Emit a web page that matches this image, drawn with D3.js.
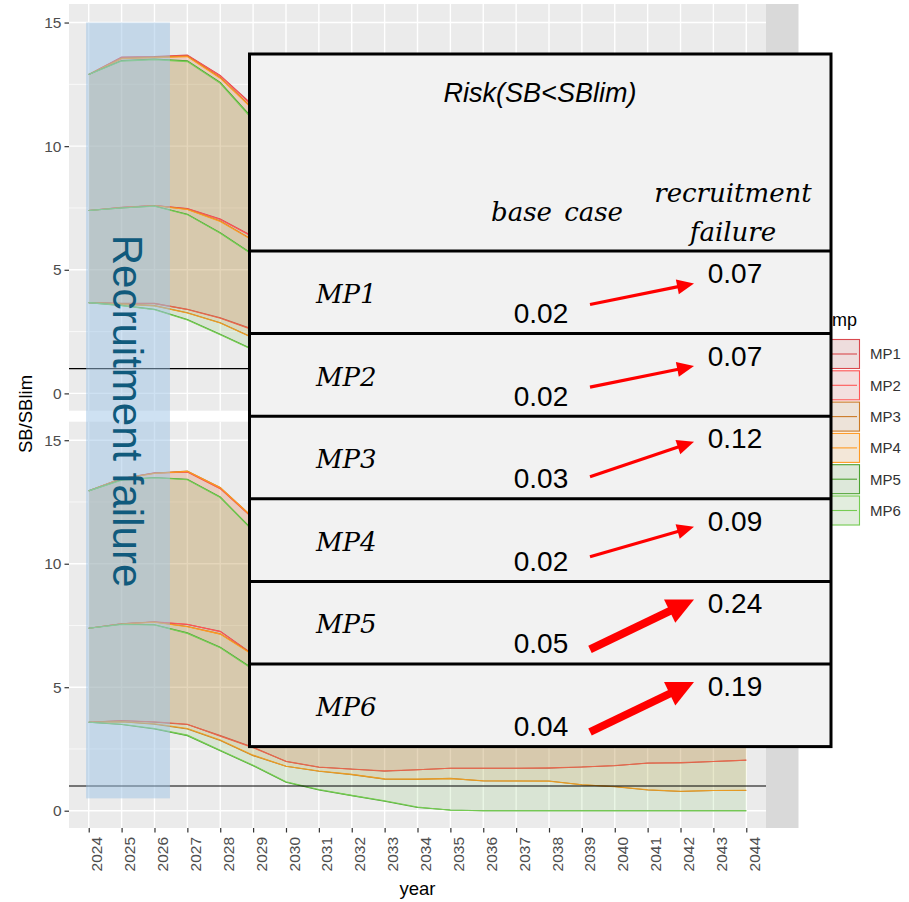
<!DOCTYPE html>
<html><head><meta charset="utf-8">
<script src="https://cdn.jsdelivr.net/npm/d3@7"></script>
<style>body{margin:0;background:#fff}svg{display:block}</style>
</head><body>
<svg id="c" width="909" height="902"></svg>
<script>
// ---------------- DATA ----------------
const years = [2024,2025,2026,2027,2028,2029,2030,2031,2032,2033,2034,2035,2036,2037,2038,2039,2040,2041,2042,2043,2044];
const mps = ["MP1","MP2","MP3","MP4","MP5","MP6"];
const scenarios = ["base case","recruitment failure"];
const yTicks = [0,5,10,15];
const yMinor = [2.5,7.5,12.5];
const sbLim = 1;

// base case (upper / median / lower quantiles of SB/SBlim)
const baseHiMP1 = [12.9,13.6,13.62,13.68,12.86,11.65,10.4,9.6,9.1,8.8,8.6,8.5,8.4,8.4,8.3,8.3,8.3,8.2,8.2,8.2,8.2];
const baseHiMP2 = [12.9,13.58,13.6,13.66,12.84,11.6,10.35,9.55,9.05,8.75,8.55,8.45,8.4,8.35,8.3,8.3,8.25,8.2,8.2,8.2,8.2];
const baseHiMP3 = [12.9,13.55,13.6,13.64,12.78,11.52,10.2,9.4,8.9,8.6,8.4,8.3,8.2,8.2,8.1,8.1,8.1,8.0,8.0,8.0,8.0];
const baseHiMP4 = [12.9,13.54,13.58,13.62,12.75,11.48,10.15,9.35,8.85,8.55,8.35,8.25,8.2,8.15,8.1,8.05,8.05,8.0,8.0,8.0,8.0];
const baseHiMP5 = [12.9,13.46,13.52,13.45,12.58,11.1,9.7,8.7,8.1,7.7,7.5,7.3,7.2,7.2,7.1,7.1,7.1,7.0,7.0,7.0,7.0];
const baseHiMP6 = [12.9,13.44,13.5,13.42,12.54,11.05,9.65,8.65,8.05,7.65,7.45,7.3,7.2,7.15,7.1,7.1,7.05,7.0,7.0,7.0,7.0];
const baseMedMP1 = [7.4,7.53,7.6,7.48,7.05,6.35,5.7,5.2,4.9,4.7,4.6,4.5,4.5,4.5,4.5,4.5,4.5,4.5,4.5,4.5,4.5];
const baseMedMP2 = [7.4,7.52,7.6,7.47,7.03,6.33,5.68,5.18,4.88,4.7,4.6,4.5,4.5,4.5,4.5,4.5,4.5,4.5,4.5,4.5,4.5];
const baseMedMP3 = [7.4,7.52,7.6,7.45,6.97,6.2,5.5,5.0,4.7,4.5,4.4,4.3,4.3,4.3,4.2,4.2,4.2,4.2,4.2,4.2,4.2];
const baseMedMP4 = [7.4,7.51,7.59,7.44,6.95,6.18,5.48,4.98,4.68,4.5,4.4,4.3,4.3,4.25,4.2,4.2,4.2,4.2,4.2,4.2,4.2];
const baseMedMP5 = [7.4,7.5,7.58,7.25,6.5,5.62,4.8,4.2,3.8,3.6,3.5,3.4,3.4,3.4,3.3,3.3,3.3,3.3,3.3,3.3,3.3];
const baseMedMP6 = [7.4,7.5,7.57,7.23,6.48,5.6,4.78,4.18,3.8,3.6,3.5,3.4,3.4,3.35,3.3,3.3,3.3,3.3,3.3,3.3,3.3];
const baseLoMP1 = [3.67,3.64,3.64,3.4,3.06,2.59,2.2,2.0,1.9,1.9,1.9,2.0,2.0,2.1,2.1,2.1,2.2,2.2,2.2,2.3,2.3];
const baseLoMP2 = [3.67,3.63,3.63,3.39,3.04,2.57,2.18,1.98,1.9,1.9,1.95,2.0,2.05,2.1,2.1,2.15,2.2,2.2,2.25,2.3,2.3];
const baseLoMP3 = [3.67,3.62,3.55,3.26,2.86,2.25,1.9,1.7,1.6,1.5,1.5,1.5,1.5,1.5,1.4,1.4,1.4,1.4,1.4,1.4,1.4];
const baseLoMP4 = [3.67,3.61,3.54,3.25,2.85,2.24,1.88,1.68,1.58,1.5,1.5,1.48,1.48,1.45,1.4,1.4,1.4,1.4,1.4,1.4,1.4];
const baseLoMP5 = [3.67,3.56,3.4,2.99,2.39,1.78,1.3,1.0,0.8,0.7,0.6,0.6,0.6,0.6,0.6,0.6,0.6,0.6,0.6,0.6,0.6];
const baseLoMP6 = [3.67,3.55,3.38,2.97,2.37,1.76,1.28,0.98,0.8,0.7,0.62,0.6,0.6,0.6,0.6,0.6,0.6,0.6,0.6,0.6,0.6];

// recruitment failure
const rfHiMP1 = [12.95,13.45,13.68,13.72,13.05,11.85,10.3,9.2,8.6,8.2,8.0,7.9,7.8,7.8,7.7,7.7,7.7,7.6,7.6,7.6,7.6];
const rfHiMP2 = [12.95,13.45,13.67,13.71,13.04,11.83,10.28,9.18,8.58,8.2,8.0,7.9,7.8,7.75,7.7,7.7,7.65,7.6,7.6,7.6,7.6];
const rfHiMP3 = [12.95,13.45,13.66,13.75,13.09,11.87,10.3,9.1,8.5,8.1,7.9,7.8,7.7,7.7,7.6,7.6,7.6,7.5,7.5,7.5,7.5];
const rfHiMP4 = [12.95,13.44,13.65,13.74,13.08,11.86,10.28,9.08,8.48,8.1,7.9,7.78,7.7,7.65,7.6,7.6,7.55,7.5,7.5,7.5,7.5];
const rfHiMP5 = [12.95,13.4,13.49,13.42,12.7,11.35,9.6,8.3,7.5,7.0,6.7,6.5,6.4,6.3,6.3,6.2,6.2,6.2,6.1,6.1,6.1];
const rfHiMP6 = [12.95,13.38,13.48,13.4,12.68,11.32,9.58,8.28,7.5,7.0,6.7,6.5,6.4,6.3,6.25,6.2,6.2,6.15,6.1,6.1,6.1];
const rfMedMP1 = [7.39,7.57,7.64,7.54,7.27,6.33,5.5,4.9,4.5,4.3,4.2,4.2,4.1,4.1,4.1,4.1,4.1,4.1,4.1,4.1,4.1];
const rfMedMP2 = [7.39,7.57,7.65,7.55,7.25,6.32,5.48,4.88,4.5,4.3,4.2,4.15,4.1,4.1,4.1,4.1,4.1,4.1,4.1,4.1,4.1];
const rfMedMP3 = [7.39,7.57,7.64,7.46,7.16,6.33,5.4,4.7,4.3,4.1,4.0,3.9,3.9,3.8,3.8,3.8,3.8,3.8,3.8,3.8,3.8];
const rfMedMP4 = [7.39,7.56,7.63,7.45,7.15,6.3,5.38,4.68,4.3,4.1,4.0,3.9,3.85,3.8,3.8,3.8,3.8,3.8,3.8,3.8,3.8];
const rfMedMP5 = [7.39,7.55,7.53,7.2,6.62,5.75,4.8,4.0,3.5,3.2,3.05,2.95,2.9,2.9,2.9,2.9,2.9,2.9,2.9,2.9,2.9];
const rfMedMP6 = [7.39,7.54,7.52,7.18,6.6,5.72,4.78,3.98,3.5,3.2,3.05,2.95,2.9,2.9,2.9,2.9,2.9,2.9,2.9,2.9,2.9];
const rfLoMP1 = [3.58,3.65,3.58,3.49,3.04,2.57,1.99,1.76,1.69,1.6,1.66,1.72,1.72,1.72,1.72,1.77,1.82,1.93,1.93,1.99,2.04];
const rfLoMP2 = [3.58,3.64,3.6,3.5,3.02,2.55,2.0,1.77,1.68,1.62,1.66,1.72,1.72,1.72,1.74,1.77,1.83,1.92,1.95,1.99,2.05];
const rfLoMP3 = [3.58,3.6,3.5,3.31,2.84,2.23,1.8,1.6,1.46,1.28,1.27,1.31,1.2,1.2,1.2,1.05,0.97,0.84,0.78,0.82,0.82];
const rfLoMP4 = [3.58,3.6,3.52,3.33,2.86,2.25,1.8,1.61,1.47,1.29,1.28,1.3,1.21,1.2,1.19,1.05,0.98,0.85,0.79,0.82,0.83];
const rfLoMP5 = [3.58,3.49,3.31,3.04,2.43,1.82,1.15,0.84,0.61,0.38,0.13,0.03,0,0,0,0,0,0,0,0,0];
const rfLoMP6 = [3.58,3.5,3.33,3.06,2.45,1.84,1.17,0.86,0.62,0.4,0.15,0.02,0,0,0,0,0,0,0,0,0];

// risk table
const riskMP = ["MP1","MP2","MP3","MP4","MP5","MP6"];
const riskBase = [0.02,0.02,0.03,0.02,0.05,0.04];
const riskRF = [0.07,0.07,0.12,0.09,0.24,0.19];
const rfPeriod = [2024,2026];

// ---------------- BUILD ----------------
const series = {
  "base case": {
    MP1:{hi:baseHiMP1,med:baseMedMP1,lo:baseLoMP1}, MP2:{hi:baseHiMP2,med:baseMedMP2,lo:baseLoMP2},
    MP3:{hi:baseHiMP3,med:baseMedMP3,lo:baseLoMP3}, MP4:{hi:baseHiMP4,med:baseMedMP4,lo:baseLoMP4},
    MP5:{hi:baseHiMP5,med:baseMedMP5,lo:baseLoMP5}, MP6:{hi:baseHiMP6,med:baseMedMP6,lo:baseLoMP6}},
  "recruitment failure": {
    MP1:{hi:rfHiMP1,med:rfMedMP1,lo:rfLoMP1}, MP2:{hi:rfHiMP2,med:rfMedMP2,lo:rfLoMP2},
    MP3:{hi:rfHiMP3,med:rfMedMP3,lo:rfLoMP3}, MP4:{hi:rfHiMP4,med:rfMedMP4,lo:rfLoMP4},
    MP5:{hi:rfHiMP5,med:rfMedMP5,lo:rfLoMP5}, MP6:{hi:rfHiMP6,med:rfMedMP6,lo:rfLoMP6}}
};
const color = d3.scaleOrdinal().domain(mps)
  .range(["#d9494e","#ff5757","#cc7a26","#ff9a22","#4ca232","#76cc52"]);

const svg = d3.select("#c");
const SANS = "'Liberation Sans', Arial, sans-serif";
const panelX0 = 69, panelX1 = 766, stripW = 32.5;
const panels = [{sc:"base case", y0:4, y1:410.7},{sc:"recruitment failure", y0:421.7, y1:828}];
const x = d3.scalePoint().domain(years).range([panelX0, panelX1]).padding(0.6);

panels.forEach((p, pi) => {
  const y = d3.scaleLinear().domain([-0.7, 15.75]).range([p.y1, p.y0]);
  p.y = y;
  const g = svg.append("g");
  g.append("rect").attr("x", panelX0).attr("y", p.y0).attr("width", panelX1 - panelX0)
    .attr("height", p.y1 - p.y0).attr("fill", "#ebebeb");
  g.append("rect").attr("x", panelX1).attr("y", p.y0).attr("width", stripW)
    .attr("height", p.y1 - p.y0).attr("fill", "#d9d9d9");
  g.selectAll(".mn").data(yMinor).join("line")
    .attr("x1", panelX0).attr("x2", panelX1).attr("y1", d => y(d)).attr("y2", d => y(d))
    .attr("stroke", "#fff").attr("stroke-width", 0.7);
  g.selectAll(".mj").data(yTicks).join("line")
    .attr("x1", panelX0).attr("x2", panelX1).attr("y1", d => y(d)).attr("y2", d => y(d))
    .attr("stroke", "#fff").attr("stroke-width", 1.4);
  g.selectAll(".vx").data(years).join("line")
    .attr("x1", d => x(d)).attr("x2", d => x(d)).attr("y1", p.y0).attr("y2", p.y1)
    .attr("stroke", "#fff").attr("stroke-width", 1.4);

  const dat = series[p.sc];
  const area = d3.area().x((d, i) => x(years[i])).y0(d => y(d[0])).y1(d => y(d[1]));
  const line = d3.line().x((d, i) => x(years[i])).y(d => y(d));
  mps.forEach(m => {
    const s = dat[m];
    const pairs = s.lo.map((v, i) => [v, s.hi[i]]);
    g.append("path").attr("d", area(pairs)).attr("fill", color(m)).attr("fill-opacity", 0.065);
    g.append("path").attr("d", line(s.hi)).attr("fill", "none").attr("stroke", color(m)).attr("stroke-width", 1.1);
    g.append("path").attr("d", line(s.lo)).attr("fill", "none").attr("stroke", color(m)).attr("stroke-width", 1.1);
  });
  mps.forEach(m => {
    g.append("path").attr("d", line(dat[m].med)).attr("fill", "none").attr("stroke", color(m)).attr("stroke-width", 1.1);
  });
  g.append("line").attr("x1", panelX0).attr("x2", panelX1).attr("y1", y(sbLim)).attr("y2", y(sbLim))
    .attr("stroke", "#000").attr("stroke-width", 1.1);

  const ax = svg.append("g").attr("transform", `translate(${panelX0},0)`)
    .call(d3.axisLeft(y).tickValues(yTicks).tickSize(4.5).tickPadding(3));
  ax.select(".domain").remove();
  ax.selectAll(".tick line").attr("stroke", "#333").attr("stroke-width", 1.2);
  ax.selectAll(".tick text").attr("fill", "#4d4d4d").style("font-family", SANS).style("font-size", "15.5px");

  if (pi === 1) {
    const bx = svg.append("g").attr("transform", `translate(0,${p.y1})`)
      .call(d3.axisBottom(x).tickSize(4.5).tickPadding(3));
    bx.select(".domain").remove();
    bx.selectAll(".tick line").attr("stroke", "#333").attr("stroke-width", 1.2);
    bx.selectAll(".tick text").attr("fill", "#4d4d4d").style("font-family", SANS).style("font-size", "15.5px")
      .attr("transform", "rotate(-90)").attr("text-anchor", "end")
      .attr("x", -9).attr("y", 2).attr("dy", "0.71em");
  }
});

// axis titles
svg.append("text").attr("x", (panelX0 + panelX1) / 2).attr("y", 895).attr("text-anchor", "middle")
  .style("font-family", SANS).style("font-size", "18.5px").attr("fill", "#000").text("year");
svg.append("text").attr("transform", "translate(32,414) rotate(-90)").attr("text-anchor", "middle")
  .style("font-family", SANS).style("font-size", "18.5px").attr("fill", "#000").text("SB/SBlim");

// legend
const leg = svg.append("g");
leg.append("text").attr("x", 832).attr("y", 326).style("font-family", SANS).style("font-size", "18px").text("mp");
mps.forEach((m, i) => {
  const ky = 339 + i * 31.3;
  leg.append("rect").attr("x", 826).attr("y", ky).attr("width", 34).attr("height", 30).attr("fill", "#f2f2f2");
  leg.append("rect").attr("x", 826.5).attr("y", ky + 0.5).attr("width", 33).attr("height", 29)
    .attr("fill", color(m)).attr("fill-opacity", 0.12).attr("stroke", color(m)).attr("stroke-width", 1.1);
  leg.append("line").attr("x1", 828).attr("x2", 857).attr("y1", ky + 15).attr("y2", ky + 15)
    .attr("stroke", color(m)).attr("stroke-width", 1.1);
  leg.append("text").attr("x", 870).attr("y", ky + 15).attr("dy", "0.36em")
    .style("font-family", SANS).style("font-size", "15px").attr("fill", "#333").text(m);
});

// recruitment failure period overlay
const yTop = panels[0].y, yBot = panels[1].y;
const stepX = x.step();
svg.append("rect").attr("x", x(rfPeriod[0]) - 0.08 * stepX).attr("y", yTop(15))
  .attr("width", (x(rfPeriod[1]) + 0.47 * stepX) - (x(rfPeriod[0]) - 0.08 * stepX))
  .attr("height", yBot(0.5) - yTop(15))
  .attr("fill", "#9dc3e6").attr("fill-opacity", 0.5);
svg.append("text")
  .attr("transform", `translate(${(x(rfPeriod[0]) + x(rfPeriod[1])) / 2 - 9},411) rotate(90)`)
  .attr("text-anchor", "middle").style("font-family", SANS).style("font-size", "42px")
  .attr("fill", "#105a7c").text("Recruitment failure");

// risk table overlay
const bx0 = 249.5, bx1 = 831, by0 = 54, hdrY = 251, rowH = 82.6;
const tbl = svg.append("g");
tbl.append("rect").attr("x", bx0).attr("y", by0).attr("width", bx1 - bx0)
  .attr("height", hdrY + rowH * riskMP.length - by0).attr("fill", "#f2f2f2")
  .attr("stroke", "#000").attr("stroke-width", 3);
riskMP.forEach((m, i) => {
  tbl.append("line").attr("x1", bx0).attr("x2", bx1).attr("y1", hdrY + i * rowH).attr("y2", hdrY + i * rowH)
    .attr("stroke", "#000").attr("stroke-width", 3);
});
const SERIF = "'DejaVu Serif', 'Liberation Serif', serif";
tbl.append("text").attr("x", 540).attr("y", 102).attr("text-anchor", "middle")
  .style("font-family", SANS).style("font-style", "italic").style("font-size", "27px").text("Risk(SB<SBlim)");
tbl.append("text").attr("x", 557).attr("y", 221).attr("text-anchor", "middle")
  .style("font-family", SERIF).style("font-style", "italic").style("font-size", "26px").style("word-spacing", "4px").text("base case");
tbl.append("text").attr("x", 733).attr("y", 202).attr("text-anchor", "middle")
  .style("font-family", SERIF).style("font-style", "italic").style("font-size", "26px").text("recruitment");
tbl.append("text").attr("x", 733).attr("y", 241).attr("text-anchor", "middle")
  .style("font-family", SERIF).style("font-style", "italic").style("font-size", "26px").text("failure");

const change = riskRF.map((v, i) => v - riskBase[i]);
const rise = d3.scaleLinear().domain([0.05, 0.07, 0.15]).range([21, 30, 50]).clamp(true);
const width = d3.scaleThreshold().domain([0.12]).range([3.2, 8]);
const fmt = d3.format(".2f");
riskMP.forEach((m, i) => {
  const top = hdrY + i * rowH;
  tbl.append("text").attr("x", 316).attr("y", top + 52)
    .style("font-family", SERIF).style("font-style", "italic").style("font-size", "26px").text(m);
  tbl.append("text").attr("x", 541).attr("y", top + 72).attr("text-anchor", "middle")
    .style("font-family", SANS).style("font-size", "28px").text(fmt(riskBase[i]));
  tbl.append("text").attr("x", 735).attr("y", top + 32).attr("text-anchor", "middle")
    .style("font-family", SANS).style("font-size", "28px").text(fmt(riskRF[i]));
  // arrow
  const r = rise(change[i]), w = width(change[i]);
  const x0 = 590, y0 = top + 43 + r / 2, x1 = 694, y1 = top + 43 - r / 2;
  const ang = Math.atan2(y1 - y0, x1 - x0);
  const hl = w > 5 ? 27 : 17, hw = w > 5 ? 13 : 7.5;
  const bxp = x1 - hl * Math.cos(ang), byp = y1 - hl * Math.sin(ang);
  tbl.append("line").attr("x1", x0).attr("y1", y0).attr("x2", bxp + 1 * Math.cos(ang)).attr("y2", byp + 1 * Math.sin(ang))
    .attr("stroke", "#ff0000").attr("stroke-width", w);
  const nx = -Math.sin(ang), ny = Math.cos(ang);
  tbl.append("polygon").attr("points",
    [[x1, y1], [bxp + hw * nx, byp + hw * ny], [bxp - hw * nx, byp - hw * ny]].map(q => q.join(",")).join(" "))
    .attr("fill", "#ff0000");
});
</script>
</body></html>
